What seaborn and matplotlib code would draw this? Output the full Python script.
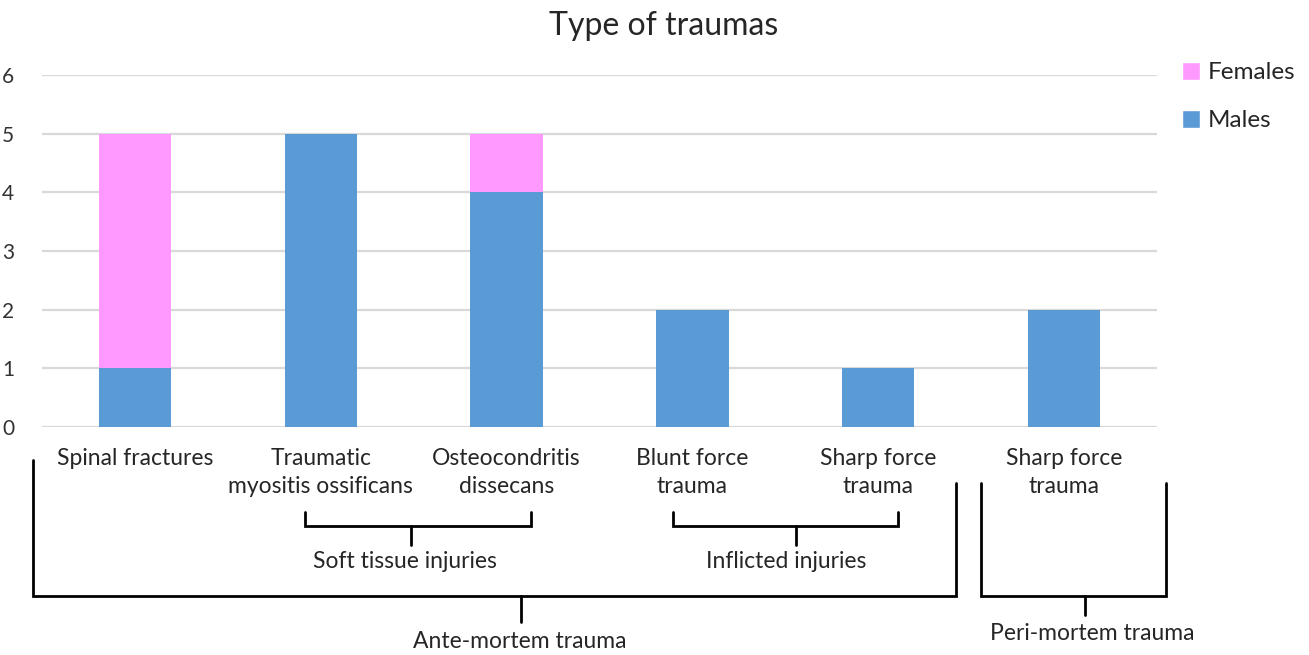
import matplotlib
matplotlib.use("Agg")
import matplotlib.pyplot as plt
import seaborn as sns
import pandas as pd
from matplotlib.patches import Patch

sns.set_theme(style="white")
plt.rcParams['font.family'] = ['Lato', 'DejaVu Sans']

# data
slots = ['s1', 's2', 's3', 's4', 's5', 's6']
labels = ['Spinal fractures', 'Traumatic\nmyositis ossificans', 'Osteocondritis\ndissecans',
          'Blunt force\ntrauma', 'Sharp force\ntrauma', 'Sharp force\ntrauma']
males = [1, 5, 4, 2, 1, 2]
females = [4, 0, 1, 0, 0, 0]

blue = '#5B9BD5'
pink = '#FF99FF'

df = pd.DataFrame({'slot': slots, 'Males': males, 'Females': females})
df['Total'] = df['Males'] + df['Females']

fig = plt.figure(figsize=(13.09, 6.55), dpi=100)
W, H = 1309, 655
ax = fig.add_axes([42 / W, 1 - 427 / H, (1157 - 42) / W, (427 - 75) / H])

# stacked: total (pink) behind, males (blue) in front
sns.barplot(data=df, x='slot', y='Total', color=pink, width=0.39, saturation=1,
            linewidth=0, edgecolor='none', ax=ax, zorder=2)
sns.barplot(data=df, x='slot', y='Males', color=blue, width=0.39, saturation=1,
            linewidth=0, edgecolor='none', ax=ax, zorder=3)

ax.set_ylim(0, 6)
ax.set_xlim(-0.5, 5.5)
ax.set_yticks(range(0, 7))
ax.yaxis.grid(True, color='#D9D9D9', linewidth=1.6, zorder=0)
ax.set_axisbelow(True)
for s in ax.spines.values():
    s.set_visible(False)
ax.set_xticks(range(len(labels)))
ax.set_xticklabels(labels, fontsize=16.5, linespacing=1.45)
ax.tick_params(axis='x', length=0, pad=15)
ax.tick_params(axis='y', length=0, pad=20, labelsize=15, labelcolor='#333333')
ax.set_xlabel('')
ax.set_ylabel('')

fig.text(664 / W, 1 - 26 / H, 'Type of traumas', ha='center', va='center', fontsize=23)

handles = [Patch(facecolor=pink, label='Females'), Patch(facecolor=blue, label='Males')]
ax.legend(handles=handles, loc='upper left', bbox_to_anchor=(1160 / W, 1 - 40 / H),
          bbox_transform=fig.transFigure, frameon=False, fontsize=17.5,
          handlelength=0.75, handleheight=0.75, handletextpad=0.3, labelspacing=1.1)

# bracket annotations in figure pixel coordinates
ov = fig.add_axes([0, 0, 1, 1], facecolor='none')
ov.set_xlim(0, W)
ov.set_ylim(H, 0)
ov.axis('off')
lw = 2.0
k = 'black'

def bracket(x0, x1, top0, top1, yb, xs, ys, label, yl, xl):
    ov.plot([x0, x0, x1, x1], [top0, yb, yb, top1], color=k, lw=lw, solid_joinstyle='miter')
    ov.plot([xs, xs], [yb, ys], color=k, lw=lw)
    ov.text(xl, yl, label, ha='center', va='center', fontsize=16.5)

bracket(305, 531, 512, 512, 526, 411, 545, 'Soft tissue injuries', 562, 405)
bracket(673, 898, 512, 512, 526, 796, 545, 'Inflicted injuries', 561, 786)
bracket(33, 956, 460, 483, 596, 521, 622, 'Ante-mortem trauma', 641, 520)
bracket(981, 1166, 483, 483, 596, 1085, 615, 'Peri-mortem trauma', 633, 1092)

fig.savefig('out.png', dpi=100)
